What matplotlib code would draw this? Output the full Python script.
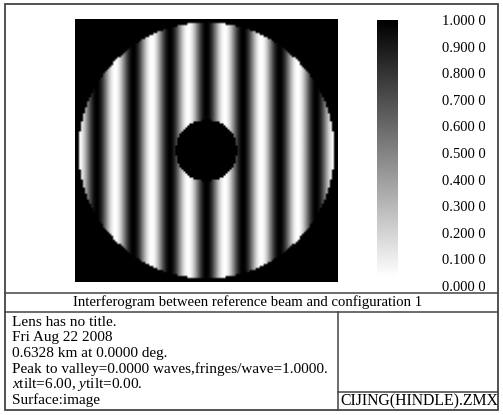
import numpy as np
import matplotlib
matplotlib.use("Agg")
import matplotlib.pyplot as plt
from matplotlib.patches import Rectangle
from matplotlib.lines import Line2D

plt.rcParams['font.family'] = ['Liberation Serif', 'DejaVu Serif']
plt.rcParams['mathtext.fontset'] = 'custom'
plt.rcParams['mathtext.rm'] = 'Liberation Serif'
plt.rcParams['mathtext.it'] = 'Liberation Serif:italic'

# interferogram settings
grid_n = 131            # sampling grid of the pupil
fringes_across = 7.0    # fringes counted across the full aperture
obscuration = 0.24      # central obscuration / aperture diameter
pupil_fill = 0.98       # aperture diameter / image width

cbar_ticks = [0.0, 0.1, 0.2, 0.3, 0.4, 0.5, 0.6, 0.7, 0.8, 0.9, 1.0]
cbar_labels = ["0.000 0", "0.100 0", "0.200 0", "0.300 0", "0.400 0", "0.500 0",
               "0.600 0", "0.700 0", "0.800 0", "0.900 0", "1.000 0"]

title = "Interferogram between reference beam and configuration 1"
info_lines = ["Lens has no title.",
              "Fri Aug 22 2008",
              "0.6328 km at 0.0000 deg.",
              "Peak to valley=0.0000 waves,fringes/wave=1.0000.",
              r"$x$tilt=6.00, $y$tilt=0.00.",
              "Surface:image"]
file_name = "CIJING(HINDLE).ZMX"

W, H = 503, 415
fig = plt.figure(figsize=(W / 100, H / 100), dpi=100)


def box(x0, y0, x1, y1):
    # pixel box (top-left origin) -> figure fraction rect
    return [x0 / W, 1 - y1 / H, (x1 - x0) / W, (y1 - y0) / H]


def fx(x):
    return x / W


def fy(y):
    return 1 - y / H


# pupil map
u = np.linspace(-1, 1, grid_n) / pupil_fill
X, Y = np.meshgrid(u, u)
R = np.hypot(X, Y)
val = np.cos(np.pi * fringes_across / 2 * X) ** 2
val[(R > 1) | (R < obscuration)] = 1.0

ax = fig.add_axes(box(75, 19, 338, 283))
ax.imshow(val, cmap="gray_r", vmin=0, vmax=1, interpolation="bilinear",
          extent=[-1, 1, -1, 1])
ax.set_xticks([])
ax.set_yticks([])
for s in ax.spines.values():
    s.set_visible(False)

# colour bar
cax = fig.add_axes(box(377, 20, 398, 286))
grad = np.linspace(0, 1, 256).reshape(-1, 1)
cax.imshow(grad, cmap="gray_r", vmin=0, vmax=1, origin="lower", aspect="auto",
           extent=[0, 1, 0.034, 1])
cax.set_xlim(0, 1)
cax.set_ylim(0, 1)
cax.set_xticks([])
cax.yaxis.tick_right()
cax.set_yticks(cbar_ticks)
cax.set_yticklabels(cbar_labels, fontsize=10.5)
cax.tick_params(axis="y", length=0, pad=31.5)
for s in cax.spines.values():
    s.set_visible(False)

# frame and dividing lines
lc = "#444444"
fig.add_artist(Rectangle((fx(5), fy(410)), fx(498) - fx(5), fy(4) - fy(410),
                         transform=fig.transFigure, fill=False, edgecolor=lc, lw=1.3))
for (x0, y0, x1, y1) in [(5, 293, 498, 293), (5, 312, 498, 312),
                         (338, 312, 338, 410), (338, 392, 498, 392)]:
    fig.add_artist(Line2D([fx(x0), fx(x1)], [fy(y0), fy(y1)],
                          transform=fig.transFigure, color=lc, lw=1.1))

fig.text(fx(248), fy(302.5), title, ha="center", va="center", fontsize=10.6)
for i, line in enumerate(info_lines):
    fig.text(fx(12), fy(322 + i * 15.7), line, ha="left", va="center", fontsize=11)
fig.text(fx(419), fy(401), file_name, ha="center", va="center", fontsize=11.3)

fig.savefig("out.png", dpi=100)
